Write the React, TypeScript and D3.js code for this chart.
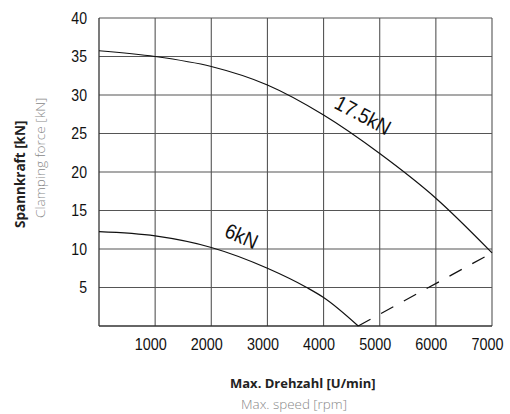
import React from "react";
import * as d3 from "d3";

const xTicks = [1000, 2000, 3000, 4000, 5000, 6000, 7000];
const yTicks = [5, 10, 15, 20, 25, 30, 35, 40];
const yGrid = [5, 10, 15, 20, 25, 30, 35, 40];

const rpm175 = [0, 1000, 2000, 3000, 4000, 5000, 6000, 7000];
const kn175 = [35.75, 35.0, 33.7, 31.3, 27.4, 22.4, 16.6, 9.5];

const rpm6 = [0, 1000, 2000, 3000, 3700, 4000, 4617];
const kn6 = [12.25, 11.7, 10.2, 7.5, 5.0, 3.7, 0];

const dashRpm = [4617, 7000];
const dashKn = [0, 9.5];

const W = 510;
const H = 414;
const L = 99;
const R = 492;
const T = 18;
const B = 326;

const narrow = "'Liberation Sans', Arial, sans-serif";
const sans = "'Open Sans', 'Noto Sans', sans-serif";

export default function App() {
  const x = d3.scaleLinear().domain([0, 7000]).range([L, R]);
  const y = d3.scaleLinear().domain([0, 40]).range([B, T]);

  const line = d3
    .line<[number, number]>()
    .x((d) => x(d[0]))
    .y((d) => y(d[1]))
    .curve(d3.curveMonotoneX);

  const p175 = line(rpm175.map((r, i) => [r, kn175[i]] as [number, number])) || "";
  const p6 = line(rpm6.map((r, i) => [r, kn6[i]] as [number, number])) || "";
  const pDash =
    d3
      .line<[number, number]>()
      .x((d) => x(d[0]))
      .y((d) => y(d[1]))(dashRpm.map((r, i) => [r, dashKn[i]] as [number, number])) || "";

  return (
    <svg
      width={W}
      height={H}
      style={{ position: "absolute", left: 0, top: 0, background: "#fff" }}
    >
      <rect x={0} y={0} width={W} height={H} fill="#fff" />
      {/* grid */}
      {xTicks.map((t) => (
        <line key={"vx" + t} x1={x(t)} x2={x(t)} y1={y(40)} y2={y(0)} stroke="#555" strokeWidth={1.1} />
      ))}
      {yGrid.map((t) => (
        <line key={"hy" + t} x1={x(0)} x2={x(7000)} y1={y(t)} y2={y(t)} stroke="#555" strokeWidth={1.1} />
      ))}
      <line x1={x(0)} x2={x(0)} y1={y(40)} y2={y(0)} stroke="#333" strokeWidth={1.3} />
      <line x1={x(0)} x2={x(7000)} y1={y(0)} y2={y(0)} stroke="#333" strokeWidth={1.3} />

      {/* curves */}
      <path d={p175} fill="none" stroke="#111" strokeWidth={1.2} />
      <path d={p6} fill="none" stroke="#111" strokeWidth={1.2} />
      <path d={pDash} fill="none" stroke="#111" strokeWidth={1.2} strokeDasharray="14 12" />

      {/* curve labels */}
      <text
        transform={`translate(363,115) rotate(28) scale(0.9,1)`}
        textAnchor="middle"
        dy="0.35em"
        fontFamily={narrow}
        fontSize={21}
        fill="#111"
      >
        17.5kN
      </text>
      <text
        transform={`translate(241.5,236) rotate(24) scale(0.9,1)`}
        textAnchor="middle"
        dy="0.35em"
        fontFamily={narrow}
        fontSize={21}
        fill="#111"
      >
        6kN
      </text>

      {/* y tick labels */}
      {yTicks.map((t) => (
        <text
          key={"yl" + t}
          transform={`translate(87,${y(t)}) scale(0.88,1)`}
          dy="0.35em"
          textAnchor="end"
          fontFamily={narrow}
          fontSize={16}
          fill="#111"
        >
          {t}
        </text>
      ))}
      {/* x tick labels */}
      {xTicks.map((t) => (
        <text
          key={"xl" + t}
          transform={`translate(${x(t) - 4.5},349.5) scale(0.9,1)`}
          textAnchor="middle"
          fontFamily={narrow}
          fontSize={16}
          fill="#111"
        >
          {t}
        </text>
      ))}

      {/* axis titles */}
      <text x={230} y={388} fontFamily={sans} fontSize={13} fontWeight={700} fill="#222">
        Max. Drehzahl [U/min]
      </text>
      <text x={241} y={408.5} fontFamily={sans} fontSize={13.4} fontWeight={300} fill="#888">
        Max. speed [rpm]
      </text>
      <text
        transform="translate(25,228) rotate(-90)"
        fontFamily={sans}
        fontSize={13.5}
        fontWeight={700}
        fill="#222"
      >
        Spannkraft [kN]
      </text>
      <text
        transform="translate(44.5,218) rotate(-90)"
        fontFamily={sans}
        fontSize={13.6}
        fontWeight={300}
        fill="#888"
      >
        Clamping force [kN]
      </text>
    </svg>
  );
}
